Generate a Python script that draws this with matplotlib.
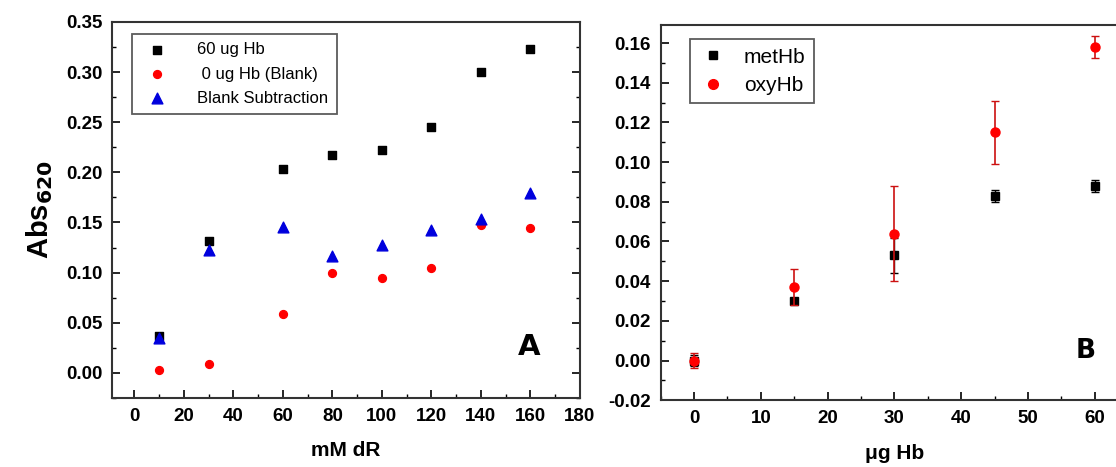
import matplotlib
matplotlib.use("Agg")
import matplotlib.pyplot as plt
from matplotlib.ticker import MultipleLocator
from matplotlib.lines import Line2D

plt.rcParams['font.family'] = ['Liberation Sans Narrow', 'Liberation Sans', 'DejaVu Sans']

# panel A data
dR = [10, 30, 60, 80, 100, 120, 140, 160]
hb60 = [0.037, 0.131, 0.203, 0.217, 0.222, 0.245, 0.300, 0.323]
blank = [0.003, 0.009, 0.059, 0.100, 0.095, 0.105, 0.147, 0.144]
subtracted = [0.035, 0.123, 0.145, 0.117, 0.128, 0.142, 0.153, 0.179]

# panel B data
ug_hb = [0, 15, 30, 45, 60]
methb = [0.000, 0.030, 0.053, 0.083, 0.088]
methb_err = [0.003, 0.001, 0.009, 0.003, 0.003]
oxyhb = [0.000, 0.037, 0.064, 0.115, 0.158]
oxyhb_err = [0.004, 0.009, 0.024, 0.016, 0.0055]

fig = plt.figure(figsize=(11.16, 4.67), dpi=100)
axA = fig.add_axes([0.1005, 0.148, 0.419, 0.805])
axB = fig.add_axes([0.592, 0.143, 0.419, 0.803])

tickfont = dict(family=['Liberation Sans Narrow', 'Liberation Sans', 'DejaVu Sans'],
                weight='bold', size=13.5)


def style(ax):
    for sp in ax.spines.values():
        sp.set_linewidth(1.5)
        sp.set_color('#333333')
    ax.tick_params(which='both', direction='in', right=True, top=False)
    ax.tick_params(which='major', length=6, width=1.2, pad=7)
    ax.tick_params(which='minor', length=3, width=1.0)
    for lab in ax.get_xticklabels() + ax.get_yticklabels():
        lab.set(**tickfont)


# ---- panel A ----
axA.scatter(dR, hb60, marker='s', s=30, c='black', label='60 ug Hb', zorder=3)
axA.scatter(dR, blank, marker='o', s=32, c='red', label=' 0 ug Hb (Blank)', zorder=3)
axA.scatter(dR, subtracted, marker='^', s=60, c='#0000dd', label='Blank Subtraction', zorder=3)
axA.set_xlim(-9, 180)
axA.set_ylim(-0.025, 0.35)
axA.xaxis.set_major_locator(MultipleLocator(20))
axA.xaxis.set_minor_locator(MultipleLocator(10))
axA.yaxis.set_major_locator(MultipleLocator(0.05))
axA.yaxis.set_minor_locator(MultipleLocator(0.025))
axA.yaxis.set_major_formatter(plt.FormatStrFormatter('%.2f'))
style(axA)
axA.set_xlabel('mM dR', fontsize=15, fontweight='bold', labelpad=12)
axA.set_ylabel('Abs$_{\\mathbf{620}}$', fontsize=21, fontweight='bold', labelpad=8)
axA.text(0.915, 0.135, 'A', transform=axA.transAxes, fontsize=21, fontweight='heavy',
         ha='right', va='center', family='DejaVu Sans')
legA = axA.legend(loc='upper left', bbox_to_anchor=(0.025, 0.99), frameon=True,
                  fancybox=False, edgecolor='#333333', handletextpad=1.4,
                  borderpad=0.5, labelspacing=0.55,
                  prop={'family': 'Liberation Sans', 'size': 12})
legA.get_frame().set_linewidth(1.3)

# ---- panel B ----
axB.errorbar(ug_hb, methb, yerr=methb_err, fmt='s', ms=5.5, color='black',
             ecolor='black', capsize=3, elinewidth=1, zorder=3)
axB.errorbar(ug_hb, oxyhb, yerr=oxyhb_err, fmt='o', ms=6.5, color='red',
             ecolor='#cc1111', capsize=3, elinewidth=1.2, zorder=4)
axB.set_xlim(-5, 65)
axB.set_ylim(-0.02, 0.169)
axB.xaxis.set_major_locator(MultipleLocator(10))
axB.xaxis.set_minor_locator(MultipleLocator(5))
axB.yaxis.set_major_locator(MultipleLocator(0.02))
axB.yaxis.set_minor_locator(MultipleLocator(0.01))
axB.yaxis.set_major_formatter(plt.FormatStrFormatter('%.2f'))
style(axB)
axB.set_xlabel('\u03bcg Hb', fontsize=15, fontweight='bold', labelpad=12)
axB.text(0.93, 0.13, 'B', transform=axB.transAxes, fontsize=19, fontweight='heavy',
         ha='right', va='center', family='DejaVu Sans')
handles = [Line2D([], [], ls='none', marker='s', ms=5.5, color='black'),
           Line2D([], [], ls='none', marker='o', ms=7, color='red')]
legB = axB.legend(handles, ['metHb', 'oxyHb'], loc='upper left',
                  bbox_to_anchor=(0.04, 0.99), frameon=True,
                  fancybox=False, edgecolor='#333333', handletextpad=0.8,
                  borderpad=0.4, labelspacing=0.45, handlelength=1.4,
                  prop={'family': 'Liberation Sans', 'size': 15})
legB.get_frame().set_linewidth(1.3)

fig.savefig('out.png', dpi=100)
